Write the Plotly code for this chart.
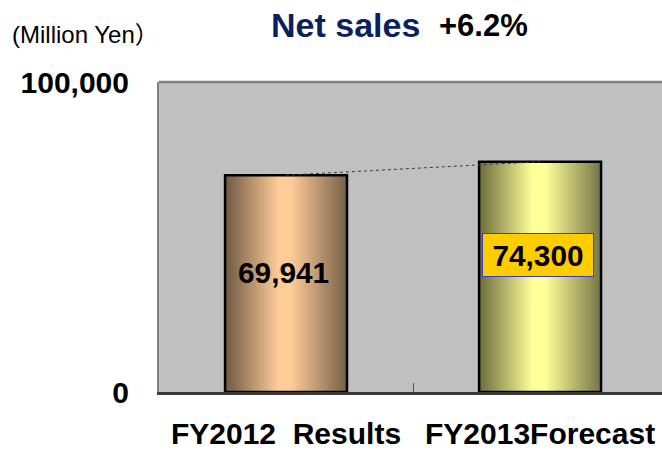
import plotly.graph_objects as go

# ---------------- data ----------------
categories = ["FY2012\u00a0 Results", "FY2013Forecast"]
net_sales = [69941, 74300]
y_tick_values = [0, 100000]
y_tick_labels = ["0", "100,000"]
title_text = "Net sales"
growth_text = "+6.2%"
unit_text = "(Million Yen\uff09"

# ---------------- layout constants ----------------
W, H = 662, 450
PL, PT, PR, PB = 159, 82, 662, 392
ML, MT, MR, MB = PL, PT, W - PR, H - PB
PW, PH = PR - PL, PB - PT
FONT = "Liberation Sans, Arial, Noto Sans CJK JP, sans-serif"
BAR_W = 0.48
N_STRIPS = 60

bar_gradients = [
    [(0.0, (110, 88, 66)), (0.44, (255, 204, 153)), (0.54, (255, 204, 153)), (1.0, (118, 96, 72))],
    [(0.0, (108, 108, 62)), (0.44, (255, 255, 153)), (0.54, (255, 255, 153)), (1.0, (118, 118, 72))],
]


def grad_color(stops, t):
    for (p0, c0), (p1, c1) in zip(stops[:-1], stops[1:]):
        if p0 <= t <= p1:
            f = 0 if p1 == p0 else (t - p0) / (p1 - p0)
            r, g, b = (round(a + (bb - a) * f) for a, bb in zip(c0, c1))
            return f"rgb({r},{g},{b})"
    r, g, b = stops[-1][1]
    return f"rgb({r},{g},{b})"


def px_x(px):
    return (px - PL) / PW


def px_y(py):
    return (PB - py) / PH


fig = go.Figure()

# horizontal gradient fill: thin bars of the data value side by side
step = BAR_W / N_STRIPS
for i in range(N_STRIPS):
    off = -BAR_W / 2 + i * step
    w = min(2 * step, BAR_W / 2 - off)
    t = (i + 0.5) / N_STRIPS
    fig.add_trace(go.Bar(
        x=categories, y=net_sales, offset=off, width=w,
        marker=dict(color=[grad_color(g, t) for g in bar_gradients], line=dict(width=0)),
        hoverinfo="skip", showlegend=False,
    ))

# bar outline
fig.add_trace(go.Bar(
    x=categories, y=net_sales, width=BAR_W,
    marker=dict(color="rgba(0,0,0,0)", line=dict(color="black", width=2.5)),
    showlegend=False,
))

# dotted connector between bar tops
fig.add_trace(go.Scatter(
    x=categories, y=net_sales, mode="lines",
    line=dict(color="#3a3a3a", width=1, dash="dot"),
    hoverinfo="skip", showlegend=False,
))

label_fracs = [0.553, 0.595]
annotations = []
for i, (c, v) in enumerate(zip(categories, net_sales)):
    a = dict(
        x=c, y=v * label_fracs[i], xref="x", yref="y",
        text=f"{v:,}", showarrow=False,
        font=dict(family=FONT, size=29.8, color="black", weight="bold"),
    )
    if i == 1:
        a.update(bgcolor="#ffcc00", bordercolor="#3a3acc", borderwidth=1,
                 borderpad=0, width=110, height=42, xshift=-2)
    else:
        a.update(xshift=-3)
    annotations.append(a)

annotations += [
    dict(x=px_x(269), y=px_y(25), xref="paper", yref="paper", xanchor="left", yanchor="middle",
         text=title_text, showarrow=False,
         font=dict(family=FONT, size=34, color="#0c1f5e", weight="bold")),
    dict(x=px_x(437), y=px_y(26), xref="paper", yref="paper", xanchor="left", yanchor="middle",
         text=growth_text, showarrow=False,
         font=dict(family=FONT, size=31, color="black", weight="bold")),
    dict(x=px_x(161), y=px_y(34), xref="paper", yref="paper", xanchor="right", yanchor="middle",
         text=unit_text, showarrow=False,
         font=dict(family=FONT, size=24, color="black")),
]

fig.update_layout(
    width=W, height=H,
    margin=dict(l=ML, r=MR, t=MT, b=MB, pad=0, autoexpand=False),
    paper_bgcolor="white", plot_bgcolor="#c0c0c0",
    barmode="overlay", showlegend=False,
    annotations=annotations,
    shapes=[dict(type="line", xref="paper", yref="paper", x0=0, x1=1, y0=1, y1=1,
                 line=dict(color="#808080", width=2.5))],
)

fig.update_xaxes(
    type="category", range=[-0.5, 1.48], automargin=False,
    showline=True, linecolor="#3a3a3a", linewidth=2.5,
    ticks="inside", tickson="boundaries", ticklen=9, tickcolor="#555555", tickwidth=1,
    showgrid=False, zeroline=False,
    tickfont=dict(family=FONT, size=30, color="black", weight="bold"),
    ticklabelstandoff=13,
)
fig.update_yaxes(
    range=[0, 100000], tickvals=y_tick_values, ticktext=y_tick_labels, automargin=False,
    showline=True, linecolor="#808080", linewidth=2,
    ticks="", showgrid=False, zeroline=False,
    tickfont=dict(family=FONT, size=30, color="black", weight="bold"),
    ticklabelstandoff=22,
)

page_fix = ("document.documentElement.style.margin='0';document.body.style.margin='0';"
            "document.documentElement.style.overflow='hidden';document.body.style.overflow='hidden';")
fig.write_html("out.html", post_script=page_fix, config={"displayModeBar": False})
